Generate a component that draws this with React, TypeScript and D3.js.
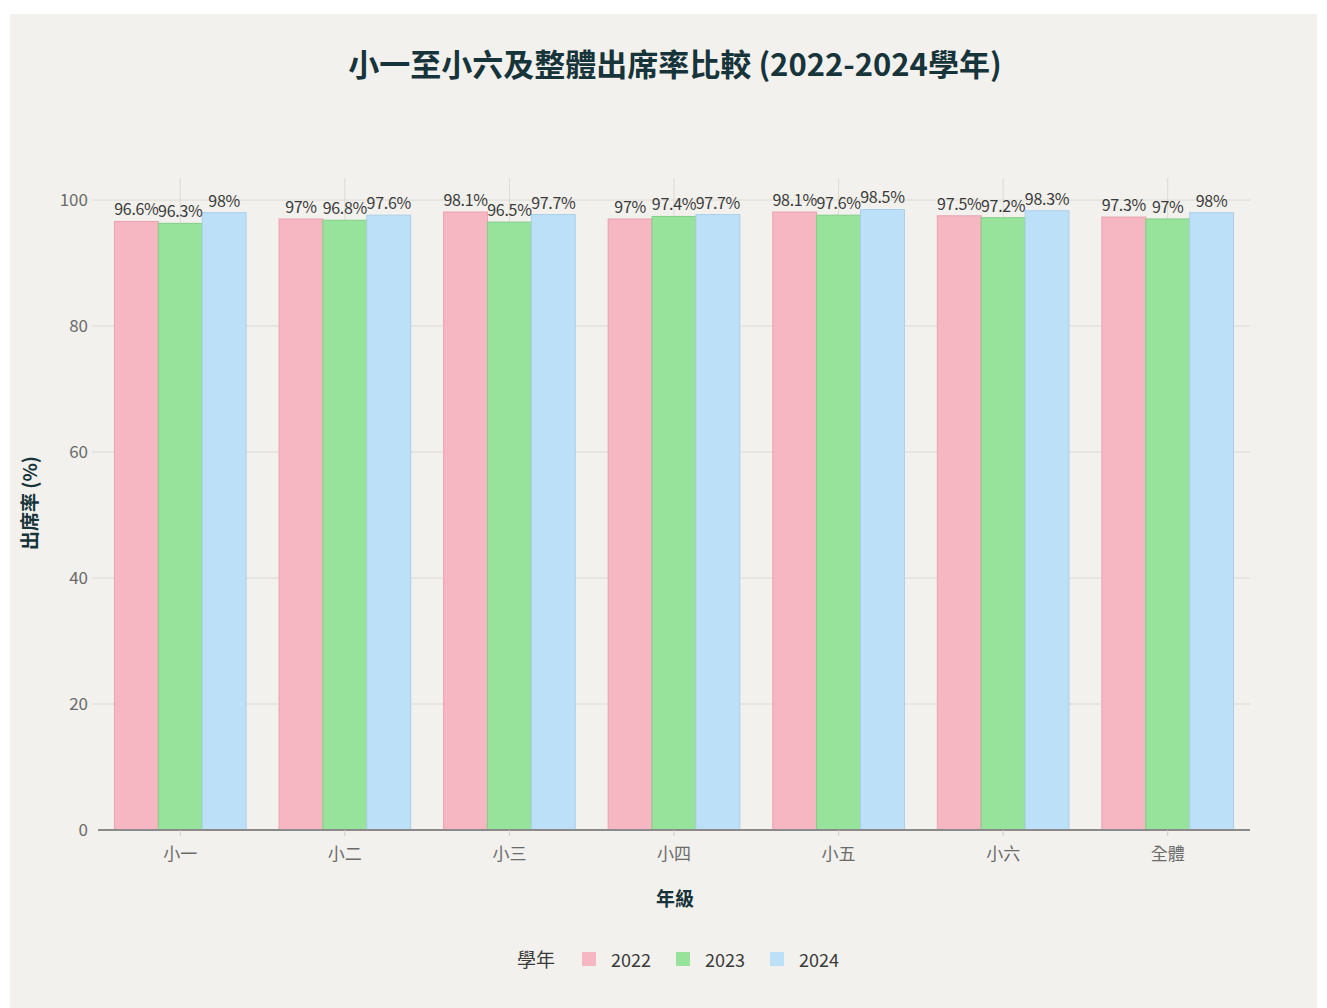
import React from "react";
import * as d3 from "d3";

const categories = ["小一", "小二", "小三", "小四", "小五", "小六", "全體"];
const years = ["2022", "2023", "2024"];
const values2022 = [96.6, 97, 98.1, 97, 98.1, 97.5, 97.3];
const values2023 = [96.3, 96.8, 96.5, 97.4, 97.6, 97.2, 97];
const values2024 = [98, 97.6, 97.7, 97.7, 98.5, 98.3, 98];
const yTicks = [0, 20, 40, 60, 80, 100];
const colors = ["#f6b7c2", "#97e39b", "#bde0f9"];
const strokes = ["#e9a3b0", "#84cf88", "#a9cfea"];

const W = 1327;
const H = 1008;
const m = { left: 98, right: 1250, top: 178, bottom: 830 };
const font = "'Noto Sans CJK TC', 'Noto Sans', sans-serif";

export default function App() {
  const series = [values2022, values2023, values2024];
  const x = d3.scaleBand().domain(categories).range([m.left, m.right]).paddingInner(0.2).paddingOuter(0.1);
  const xc = d3.scaleBand().domain(categories).range([m.left, m.right]);
  const xs = d3.scaleBand().domain(years).range([0, x.bandwidth()]);
  const y = d3.scaleLinear().domain([0, 103.5]).range([m.bottom, m.top]);

  return (
    <svg width={W} height={H} style={{ position: "absolute", left: 0, top: 0 }} fontFamily={font}>
      <rect x={0} y={0} width={W} height={H} fill="#ffffff" />
      <rect x={10} y={14} width={1307} height={H - 14} fill="#f2f1ed" />
      <text x={675} y={76} textAnchor="middle" fontSize={31} fontWeight={700} fill="#16343a">
        小一至小六及整體出席率比較 (2022-2024學年)
      </text>
      {yTicks.map((t) => (
        <g key={t}>
          {t > 0 && <line x1={m.left - 6} x2={m.right} y1={y(t)} y2={y(t)} stroke="#dcdbd6" strokeWidth={1} />}
          <text x={88} y={y(t) + 6} textAnchor="end" fontSize={17} fill="#6b6b6b">{t}</text>
        </g>
      ))}
      {categories.map((c) => (
        <line key={c} x1={xc(c)! + xc.bandwidth() / 2} x2={xc(c)! + xc.bandwidth() / 2} y1={m.top} y2={m.bottom} stroke="#dcdbd6" strokeWidth={1} />
      ))}
      {categories.map((c, i) => (
        <g key={c}>
          {series.map((s, k) => (
            <rect key={k} x={x(c)! + xs(years[k])!} y={y(s[i])} width={xs.bandwidth()} height={y(0) - y(s[i])}
              fill={colors[k]} stroke={strokes[k]} strokeWidth={1} />
          ))}
        </g>
      ))}
      {categories.map((c, i) => (
        <g key={c}>
          {series.map((s, k) => (
            <text key={k} x={x(c)! + xs(years[k])! + xs.bandwidth() / 2} y={y(s[i]) - 6} textAnchor="middle"
              fontSize={16} letterSpacing={-0.3} fill="#3a3a3a">{s[i] + "%"}</text>
          ))}
        </g>
      ))}
      <line x1={m.left} x2={m.right} y1={m.bottom} y2={m.bottom} stroke="#8a8a8a" strokeWidth={2} />
      {categories.map((c) => {
        const cx = xc(c)! + xc.bandwidth() / 2;
        return (
          <g key={c}>
            <line x1={cx} x2={cx} y1={m.bottom} y2={m.bottom + 6} stroke="#cfcfcf" />
            <text x={cx} y={860} textAnchor="middle" fontSize={17} fill="#6b6b6b">{c}</text>
          </g>
        );
      })}
      <text x={675} y={906} textAnchor="middle" fontSize={19} fontWeight={700} fill="#16343a">年級</text>
      <text transform={`translate(37,${503}) rotate(-90)`} textAnchor="middle" fontSize={19} fontWeight={700} fill="#16343a">出席率 (%)</text>
      <text x={517} y={967} fontSize={19} fill="#3a3a3a">學年</text>
      {years.map((yr, k) => {
        const lx = [582, 676, 770][k];
        return (
          <g key={yr}>
            <rect x={lx} y={952} width={14} height={14} fill={colors[k]} />
            <text x={lx + 29} y={967} fontSize={18} fill="#3a3a3a">{yr}</text>
          </g>
        );
      })}
    </svg>
  );
}
